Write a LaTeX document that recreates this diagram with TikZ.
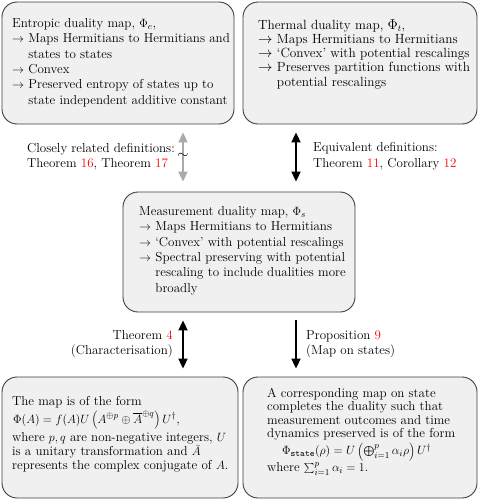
\documentclass[tikz,border=0pt]{standalone}
\usepackage{fontspec}
\setmainfont{Latin Modern Roman}
\usetikzlibrary{arrows.meta}
\definecolor{boxfill}{RGB}{240,240,240}
\definecolor{boxdraw}{RGB}{60,60,60}
\definecolor{grayarr}{RGB}{170,170,170}
\definecolor{refred}{RGB}{255,0,0}
\newcommand{\rf}[1]{\textcolor{refred}{#1}}
\newcommand{\hang}{\hphantom{$\rightarrow$}\ }
\begin{document}
\begin{tikzpicture}[x=1pt,y=-1pt,
  box/.style={draw=boxdraw, fill=boxfill, line width=0.9pt, rounded corners=15pt, inner sep=0pt},
  txt/.style={anchor=north west, inner sep=0pt, align=left, font=\fontsize{13}{15.4}\selectfont},
  lbl/.style={inner sep=0pt, font=\fontsize{13}{15.6}\selectfont},
  arr/.style={line width=2pt, -{Triangle[length=10pt,width=9pt]}},
  darr/.style={line width=2pt, {Triangle[length=10pt,width=9pt]}-{Triangle[length=10pt,width=9pt]}},
]
\useasboundingbox (0,0) rectangle (478,500);
% boxes
\node[box, minimum width=232pt, minimum height=122pt] (tl) at (118,63) {};
\node[box, minimum width=234pt, minimum height=122pt] (tr) at (360,63) {};
\node[box, minimum width=232pt, minimum height=120pt] (mid) at (239,252) {};
\node[box, minimum width=236pt, minimum height=121pt] (bl) at (120,437.5) {};
\node[box, minimum width=234pt, minimum height=121pt] (br) at (360,437.5) {};
% texts
\node[txt] (tlt) at (12,18) {Entropic duality map, $\Phi_e$,\\
$\rightarrow$ Maps Hermitians to Hermitians and\\
\hang states to states\\
$\rightarrow$ Convex\\
$\rightarrow$ Preserved entropy of states up to\\
\hang state independent additive constant};
\node[txt, font=\fontsize{13.3}{14.3}\selectfont] (trt) at (258,19) {Thermal duality map, $\Phi_t$,\\
$\rightarrow$ Maps Hermitians to Hermitians\\
$\rightarrow$ `Convex' with potential rescalings\\
$\rightarrow$ Preserves partition functions with\\
\hang potential rescalings};
\node[txt] (midt) at (139,206) {Measurement duality map, $\Phi_s$\\
$\rightarrow$ Maps Hermitians to Hermitians\\
$\rightarrow$ `Convex' with potential rescalings\\
$\rightarrow$ Spectral preserving with potential\\
\hang rescaling to include dualities more\\
\hang broadly};
\node[txt, font=\fontsize{13}{13.8}\selectfont] (blt) at (12,396) {The map is of the form\\[2pt]
\hspace{1pt}$\Phi(A) = f(A)U\left(A^{\oplus p}\oplus\overline{A}^{\oplus q}\right)U^\dagger$,\\[2pt]
where $p,q$ are non-negative integers, $U$\\[0.5pt]
is a unitary transformation and $\bar{A}$\\
represents the complex conjugate of $A$.};
\node[txt, font=\fontsize{13}{13.5}\selectfont] (brt) at (267,388) {A corresponding map on state\\
completes the duality such that\\
measurement outcomes and time\\
dynamics preserved is of the form\\[1pt]
\hspace{15pt}$\Phi_{\mathtt{state}}(\rho) = U\left(\bigoplus_{i=1}^p\alpha_i\rho\right)U^\dagger$\\[0.5pt]
where $\sum_{i=1}^p \alpha_i = 1$.};
% connector positions
\coordinate (xa) at (183,0);
\coordinate (xb) at (296,0);
\draw[darr, grayarr] ([yshift=-8pt]xa |- tl.south) -- ([yshift=10pt]xa |- mid.north);
\draw[darr] ([yshift=-8pt]xb |- tr.south) -- ([yshift=10pt]xb |- mid.north);
\draw[darr] ([yshift=-8pt]xa |- mid.south) -- ([yshift=8pt]xa |- bl.north);
\draw[arr] ([yshift=-8pt]xb |- mid.south) -- ([yshift=8pt]xb |- br.north);
\node[font=\Large, inner sep=0pt] (tilde) at (183,156) {$\sim$};
% labels
\node[lbl, anchor=west, align=left] (l1) at (27,156.5) {Closely related definitions:\\Theorem \rf{16}, Theorem \rf{17}};
\node[lbl, anchor=west, align=left] (l2) at (313,156.5) {Equivalent definitions:\\Theorem \rf{11}, Corollary \rf{12}};
\node[lbl, anchor=east, align=right] (l3) at (173,344) {Theorem \rf{4}\hspace{6pt}\\(Characterisation)};
\node[lbl, anchor=west, align=left] (l4) at (306,344) {Proposition \rf{9}\\(Map on states)};
\end{tikzpicture}
\end{document}
